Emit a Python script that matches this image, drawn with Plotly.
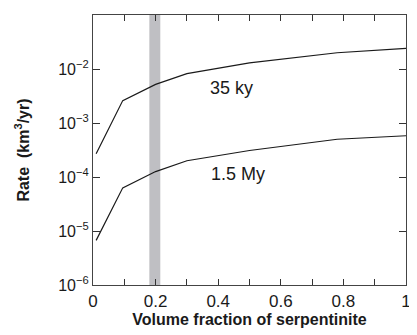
import math
import plotly.graph_objects as go

fraction = [0.01, 0.095, 0.2, 0.3, 0.5, 0.78, 1.0]
rate_35ky = [2.7e-4, 2.6e-3, 5.2e-3, 8.2e-3, 1.3e-2, 2.0e-2, 2.4e-2]
rate_15my = [6.7e-6, 6.3e-5, 1.26e-4, 2.0e-4, 3.1e-4, 5.0e-4, 5.8e-4]
band = [0.18, 0.215]
labels = ["35 ky", "1.5 My"]
label_pos = [(0.442, 4.5e-3), (0.462, 1.12e-4)]
ytick_vals = [1e-6, 1e-5, 1e-4, 1e-3, 1e-2]
ytick_text = ["10<sup>−6</sup>", "10<sup>−5</sup>", "10<sup>−4</sup>", "10<sup>−3</sup>", "10<sup>−2</sup>"]
xtick_vals = [0, 0.2, 0.4, 0.6, 0.8, 1]
xtick_text = ["0", "0.2", "0.4", "0.6", "0.8", "1"]

font = "Liberation Sans, Arial, sans-serif"
ink = "#1a1a1a"
fig = go.Figure()
for ys in (rate_35ky, rate_15my):
    fig.add_trace(go.Scatter(x=fraction, y=ys, mode="lines",
                             line=dict(color=ink, width=1.2),
                             showlegend=False, hoverinfo="skip"))

fig.add_shape(type="rect", xref="x", yref="paper", x0=band[0], x1=band[1],
              y0=0, y1=1, fillcolor="#bfbfc3", line_width=0, layer="below")

for t, (lx, ly) in zip(labels, label_pos):
    fig.add_annotation(x=lx, y=math.log10(ly), text=t, showarrow=False,
                       font=dict(family=font, size=18, color=ink))

fig.update_xaxes(range=[0, 1], tickvals=xtick_vals, ticktext=xtick_text,
                 ticks="inside", ticklen=6, tickcolor="#333", showline=True,
                 linecolor="#444", linewidth=1.2, mirror="allticks",
                 minor=dict(dtick=0.1, ticks="inside", ticklen=6, tickcolor="#333"),
                 showgrid=False, zeroline=False,
                 tickfont=dict(family=font, size=17, color=ink),
                 title=dict(text="<b>Volume fraction of serpentinite</b>",
                            font=dict(family=font, size=16, color=ink), standoff=4))
fig.update_yaxes(type="log", range=[-6, -1], tickvals=ytick_vals, ticktext=ytick_text,
                 ticks="inside", ticklen=7, tickcolor="#333", showline=True,
                 linecolor="#444", linewidth=1.2, mirror="allticks",
                 showgrid=False, zeroline=False,
                 tickfont=dict(family=font, size=16, color=ink),
                 title=dict(text="<b>Rate  (km<sup>3</sup>/yr)</b>",
                            font=dict(family=font, size=16, color=ink), standoff=24))
fig.update_layout(width=409, height=327, margin=dict(l=85, r=6, t=7, b=50),
                  plot_bgcolor="white", paper_bgcolor="white")
fig.write_html("out.html")
